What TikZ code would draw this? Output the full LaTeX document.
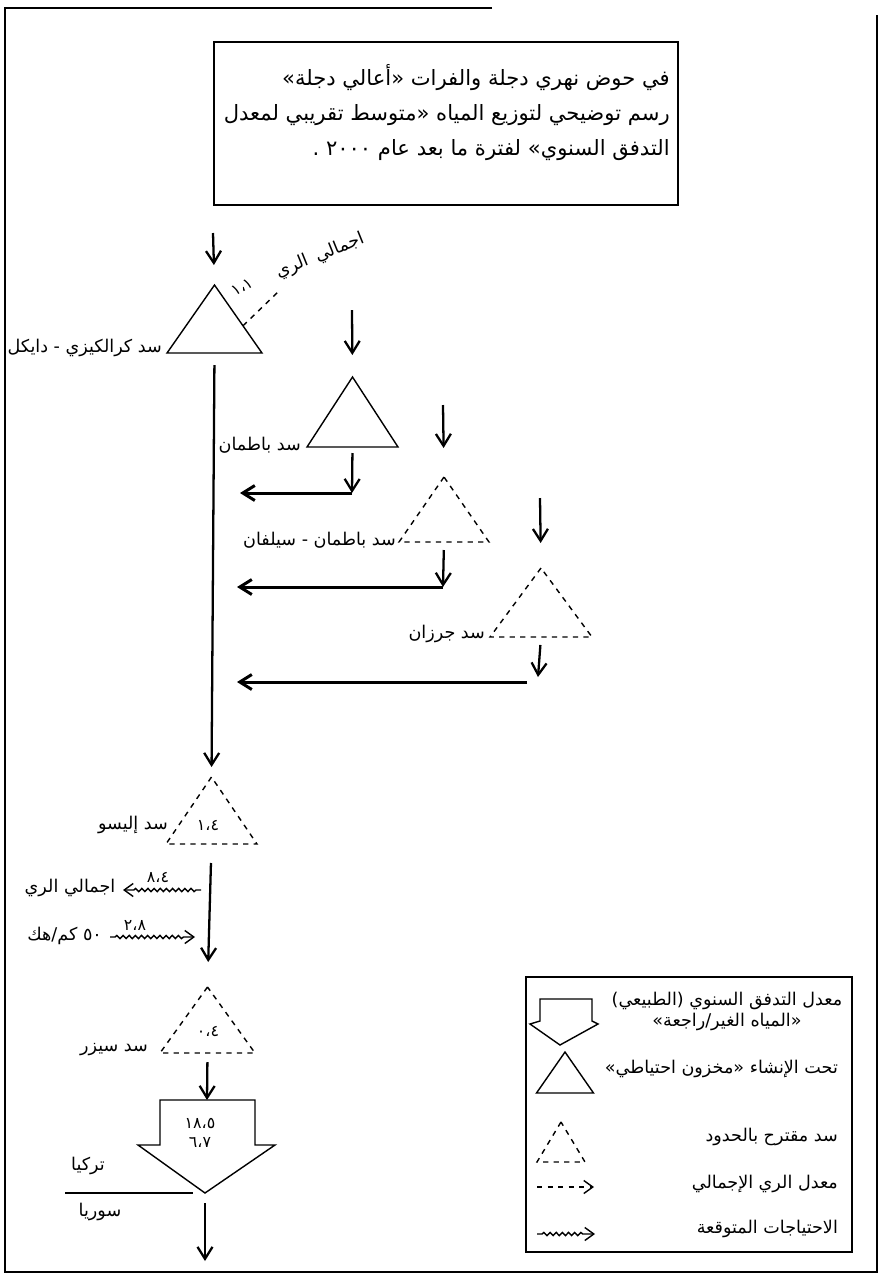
\documentclass[tikz,border=0pt]{standalone}
\usepackage{fontspec}
\newfontfamily\arabicfont[Script=Arabic]{DejaVu Sans}
\TeXXeTstate=1
\usetikzlibrary{arrows.meta,shapes.geometric,decorations.pathmorphing}

\begin{document}
\begin{tikzpicture}[x=0.02cm,y=-0.02cm]
\tikzset{
  dam/.style={isosceles triangle,isosceles triangle stretches,shape border rotate=90,draw,thick,inner sep=0pt,outer sep=0pt,minimum width=1.9cm,minimum height=1.36cm},
  plandam/.style={dam,dashed},
  flow/.style={-{Straight Barb[length=2.4mm,width=3mm]},line width=1.3pt},
  outflow/.style={flow,line width=1.7pt},
  need/.style={decorate,decoration={snake,amplitude=0.9pt,segment length=3.5pt,pre length=1mm,post length=2mm},-{Straight Barb[length=1.8mm,width=2.6mm]},thick},
  irr/.style={dashed,thick},
  lbl/.style={font=\arabicfont\fontsize{10}{12}\selectfont,inner sep=1pt},
  num/.style={font=\arabicfont\fontsize{9}{11}\selectfont,inner sep=1pt}
}
\useasboundingbox (0,0) rectangle (879,1279);
% frame
\draw[line width=1pt] (492,8) -- (5,8) -- (5,1272) -- (877,1272) -- (877,15);

% title
\node[draw,thick,minimum width=9.28cm,minimum height=3.26cm] (titlebox) at (446,123.5) {};
\node[font=\arabicfont\fontsize{12}{20}\selectfont,align=right,anchor=north east,inner sep=0pt] (titletext) at (670,64)
  {\beginR في حوض نهري دجلة والفرات «أعالي دجلة»\endR\\
   \beginR رسم توضيحي لتوزيع المياه «متوسط تقريبي لمعدل\endR\\
   \beginR التدفق السنوي» لفترة ما بعد عام ٢٠٠٠ .\endR};

% dams
\node[dam,anchor=south] (kralkizi) at (214.5,353) {};
\node[dam,anchor=south,minimum width=1.82cm,minimum height=1.4cm] (batman) at (352.5,447) {};
\node[plandam,anchor=south,minimum width=1.8cm,minimum height=1.3cm] (silvan) at (444,542) {};
\node[plandam,anchor=south,minimum width=2.04cm,minimum height=1.38cm] (garzan) at (541,637) {};
\node[plandam,anchor=south,minimum width=1.82cm,minimum height=1.34cm] (ilisu) at (211.5,844) {};
\node[plandam,anchor=south,minimum width=1.9cm,minimum height=1.32cm] (cizre) at (207.5,1053) {};

\node[lbl,anchor=east] (kralkiziname) at (164,348) {\beginR سد كرالكيزي - دايكل\endR};
\node[lbl,anchor=east] (batmanname) at (303,445) {\beginR سد باطمان\endR};
\node[lbl,anchor=east] (silvanname) at (398,540) {\beginR سد باطمان - سيلفان\endR};
\node[lbl,anchor=east] (garzanname) at (487,634) {\beginR سد جرزان\endR};
\node[lbl,anchor=east] (ilisuname) at (170,825) {\beginR سد إليسو\endR};
\node[num] (ilisuval) at (208,825) {١،٤};
\node[lbl,anchor=east] (cizrename) at (150,1050) {\beginR سد سيزر\endR};
\node[num] (cizreval) at (208,1031) {٠،٤};

% inflows
\coordinate (in0) at (213,233);
\coordinate (inbatman) at (352,310);
\coordinate (insilvan) at (443,405);
\coordinate (ingarzan) at (540,498);
\draw[flow,shorten >=0.4cm] (in0) -- (kralkizi.apex);
\draw[flow,shorten >=0.44cm] (inbatman) -- (batman.apex);
\draw[flow,shorten >=0.58cm] (insilvan) -- (silvan.apex);
\draw[flow,shorten >=0.5cm] (ingarzan) -- (garzan.apex);

% main stem
\draw[flow,shorten <=0.24cm,shorten >=0.2cm] (kralkizi.south) -- (ilisu.apex);
\draw[flow,shorten <=0.38cm,shorten >=0.5cm] (ilisu.south) -- (cizre.apex);

% tributaries back to the stem
\coordinate (outbatman) at (352,493);
\coordinate (joinbatman) at (240,493);
\coordinate (outsilvan) at (443,587);
\coordinate (joinsilvan) at (237,587);
\coordinate (outgarzan) at (538,677);
\coordinate (turngarzan) at (527,682);
\coordinate (joingarzan) at (237,682);
\draw[flow,shorten <=0.12cm] (batman.south) -- (outbatman);
\draw[outflow] (outbatman) -- (joinbatman);
\draw[flow,shorten <=0.16cm] (silvan.south) -- (outsilvan);
\draw[outflow] (outsilvan) -- (joinsilvan);
\draw[flow,shorten <=0.16cm] (garzan.south) -- (outgarzan);
\draw[outflow] (turngarzan) -- (joingarzan);

% irrigation at Kralkizi
\coordinate (irr0) at (278,292);
\draw[irr] (kralkizi.5) -- (irr0);
\node[num,rotate=30] (irr0val) at (242,287) {١،١};
\node[lbl,rotate=22] (irr0name) at (320,256) {\beginR اجمالي\hspace{5pt}الري\endR};

% withdrawals below Ilisu
\coordinate (tapirr) at (201,890);
\coordinate (irrend) at (123,890);
\coordinate (needstart) at (110,937);
\coordinate (needend) at (195,937);
\draw[need] (tapirr) -- (irrend);
\draw[need] (needstart) -- (needend);
\node[num] (irrval) at (158,877) {٨،٤};
\node[lbl] (irrname) at (70,888) {\beginR اجمالي الري\endR};
\node[num] (needval) at (135,925) {٢،٨};
\node[lbl,anchor=east] (needname) at (104,936) {\beginR ٥٠ كم/هك\endR};

% outflow to Syria
\coordinate (flowtop) at (207,1100);
\coordinate (flowtip) at (205,1193);
\draw[flow,shorten <=0.18cm] (cizre.south) -- (flowtop);
\draw[thick] (160,1100) -- (160,1145) -- (138,1145) -- (flowtip) -- (275,1145) -- (255,1145) -- (255,1100) -- cycle;
\node[num] (flowA) at (200,1123) {١٨،٥};
\node[num] (flowB) at (200,1142) {٦،٧};
\coordinate (borderW) at (65,1193);
\coordinate (borderE) at (193,1193);
\draw[thick] (borderW) -- (borderE);
\node[lbl] (turkey) at (88,1166) {\beginR تركيا\endR};
\node[lbl] (syria) at (100,1212) {\beginR سوريا\endR};
\coordinate (outlet) at (205,1261);
\draw[flow,shorten <=0.2cm] (flowtip) -- (outlet);

% legend
\node[draw,thick,minimum width=6.52cm,minimum height=5.5cm] (legend) at (689,1114.5) {};
\draw[thick] (540,999) -- (540,1021) -- (530,1024) -- (560,1045) -- (598,1024) -- (592,1021) -- (592,999) -- cycle;
\node[dam,anchor=south,minimum width=1.14cm,minimum height=0.82cm] (keydam) at (565,1093) {};
\node[plandam,anchor=south,minimum width=0.96cm,minimum height=0.8cm] (keyplan) at (561,1162) {};
\coordinate (keyirrA) at (537,1187);
\coordinate (keyirrB) at (594,1187);
\coordinate (keyneedA) at (537,1234);
\coordinate (keyneedB) at (595,1234);
\draw[irr,-{Straight Barb[length=1.8mm,width=2.6mm]}] (keyirrA) -- (keyirrB);
\draw[need] (keyneedA) -- (keyneedB);
\node[lbl,align=center] (keyflow) at (727,1011) {\beginR معدل التدفق السنوي (الطبيعي)\endR\\\beginR «المياه الغير/راجعة»\endR};
\node[lbl,anchor=east] (keydamtext) at (840,1069) {\beginR تحت الإنشاء «مخزون احتياطي»\endR};
\node[lbl,anchor=east] (keyplantext) at (840,1137) {\beginR سد مقترح بالحدود\endR};
\node[lbl,anchor=east] (keyirrtext) at (840,1184) {\beginR معدل الري الإجمالي\endR};
\node[lbl,anchor=east] (keyneedtext) at (840,1229) {\beginR الاحتياجات المتوقعة\endR};
\end{tikzpicture}
\end{document}
